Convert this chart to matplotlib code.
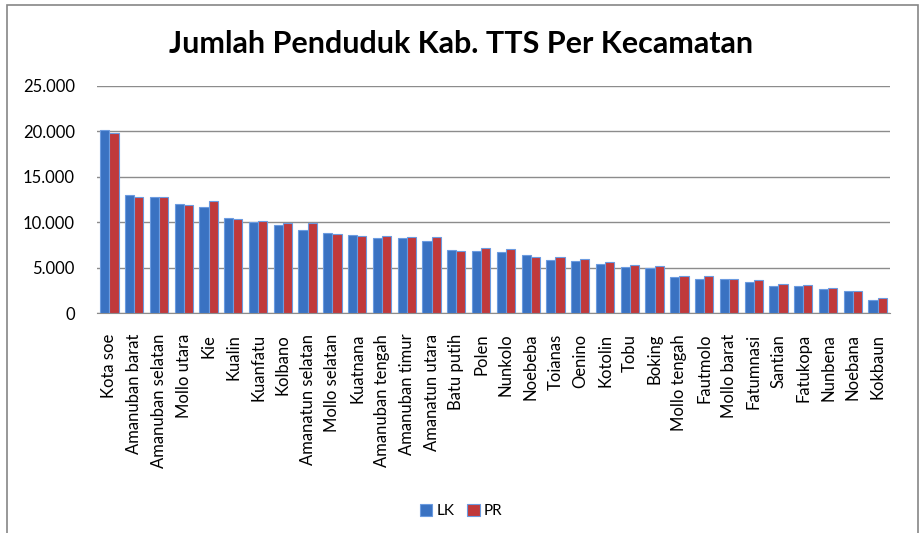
import numpy as np
import matplotlib.pyplot as plt
from matplotlib.patches import Rectangle
from matplotlib.ticker import FuncFormatter

# data per kecamatan (LK = laki-laki, PR = perempuan)
kecamatan = ['Kota soe', 'Amanuban barat', 'Amanuban selatan', 'Mollo utara', 'Kie',
             'Kualin', 'Kuanfatu', 'Kolbano', 'Amanatun selatan', 'Mollo selatan',
             'Kuatnana', 'Amanuban tengah', 'Amanuban timur', 'Amanatun utara',
             'Batu putih', 'Polen', 'Nunkolo', 'Noebeba', 'Toianas', 'Oenino',
             'Kotolin', 'Tobu', 'Boking', 'Mollo tengah', 'Fautmolo', 'Mollo barat',
             'Fatumnasi', 'Santian', 'Fatukopa', 'Nunbena', 'Noebana', 'Kokbaun']
lk = [20100, 12990, 12740, 12000, 11710, 10470, 9990, 9740, 9150, 8860,
      8550, 8240, 8240, 7940, 6950, 6880, 6770, 6400, 5890, 5780,
      5420, 5080, 5000, 3970, 3790, 3750, 3460, 2980, 2980, 2650, 2470, 1470]
pr = [19800, 12740, 12740, 11900, 12330, 10320, 10100, 9920, 9920, 8710,
      8440, 8530, 8420, 8420, 6810, 7210, 7030, 6220, 6220, 5930,
      5640, 5300, 5230, 4050, 4050, 3720, 3610, 3200, 3050, 2720, 2390, 1620]

fig = plt.figure(figsize=(9.23, 5.33), dpi=100)
plt.rcParams['font.family'] = ['Lato', 'DejaVu Sans']

# chart frame like excel
fig.patches.append(Rectangle((7 / 923, -0.1), 911 / 923, 1.1 - 5 / 533, transform=fig.transFigure,
                             fill=False, edgecolor='#868686', linewidth=1.2))

ax = fig.add_axes([97 / 923, 1 - 313 / 533, 793 / 923, 227 / 533])
x = np.arange(len(kecamatan))
w = 0.37
ax.bar(x - w / 2, lk, width=w, color='#3a72c2', edgecolor='#6b9be0', linewidth=0.8, label='LK', zorder=3)
ax.bar(x + w / 2, pr, width=w, color='#c0393b', edgecolor='#6b9be0', linewidth=0.8, label='PR', zorder=3)

ax.set_ylim(0, 25000)
ax.set_xlim(-0.5, len(kecamatan) - 0.5)
ax.set_yticks(range(0, 25001, 5000))
ax.yaxis.set_major_formatter(FuncFormatter(lambda v, p: f'{int(v):,}'.replace(',', '.')))
ax.grid(axis='y', color='#8c8c8c', linewidth=1, zorder=0)
ax.set_xticks(x)
ax.set_xticklabels(kecamatan, rotation=90, fontsize=12)
ax.tick_params(axis='y', length=0, labelsize=12, pad=16)
ax.tick_params(axis='x', length=0, pad=15)
for s in ['top', 'right', 'left']:
    ax.spines[s].set_visible(False)
ax.spines['bottom'].set_color('#8c8c8c')

fig.text(0.5, 0.918, 'Jumlah Penduduk Kab. TTS Per Kecamatan', ha='center', va='center',
         fontsize=22, fontweight='bold')
fig.legend(loc='center', bbox_to_anchor=(0.5, 0.041), ncol=2, frameon=False, fontsize=11,
           handlelength=0.8, handleheight=0.8, handletextpad=0.3, columnspacing=0.8)

plt.savefig('out.png', dpi=100)
